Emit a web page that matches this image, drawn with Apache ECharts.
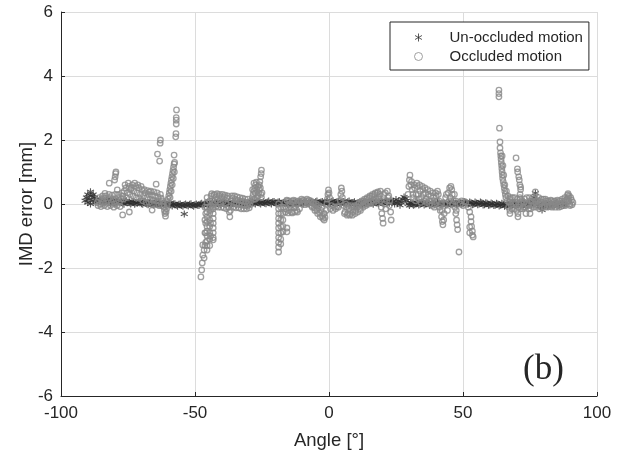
<!DOCTYPE html>
<html>
<head>
<meta charset="utf-8">
<script src="https://cdn.jsdelivr.net/npm/echarts@6/dist/echarts.min.js"></script>
<style>
  html, body { margin: 0; padding: 0; background: #ffffff; }
  #chart { width: 630px; height: 458px; }
</style>
</head>
<body>
<div id="chart"></div>
<script>
// Axis ticks
const angleTicks = [-100, -50, 0, 50, 100];
const errorTicks = [-6, -4, -2, 0, 2, 4, 6];

// Series names
const seriesNames = ['Un-occluded motion', 'Occluded motion'];

// Un-occluded motion: [angle in degrees, IMD error in mm], whole-degree samples
const unoccludedPoints = [
  [-91,0.1],[-90.5,0.2],[-90,0.05],[-90,0.3],[-89.5,0.15],[-89,0.38],[-89,0.0],[-88.5,0.25],[-88,0.1],[-88,0.3],
  [-87.5,0.2],[-87,0.05],[-86.5,0.15],[-86,0.08],[-85,0.1],[-84,0.06],[-83,0.12],[-82,0.05],[-81,0.09],[-80,0.04],
  [-79,0.1],[-78,0.06],[-77,0.02],[-76,0.08],[-75,0.05],[-74,0.0],[-73,0.06],[-72,0.03],[-71,0.07],[-70,0.01],
  [-69,0.05],[-68,0.0],[-67,0.04],[-66,-0.02],[-65,0.03],[-64,0.0],[-63,-0.03],[-62,0.02],[-61,-0.02],[-60,0.01],
  [-59,-0.03],[-58,0.0],[-57,-0.04],[-56,-0.01],[-55,-0.05],[-54,-0.02],[-54,-0.31],[-53,-0.04],[-52,-0.01],[-51,-0.05],
  [-50,-0.02],[-49,-0.04],[-48,0.0],[-47,-0.03],[-46,0.01],[-45,-0.02],[-44,0.02],[-43,-0.01],[-42,0.03],[-41,0.0],
  [-40,0.04],[-39,0.01],[-38,0.03],[-37,0.0],[-36,0.02],[-35,-0.01],[-34,0.02],[-33,0.0],[-32,0.03],[-31,0.0],
  [-30,0.02],[-29,0.05],[-28,0.02],[-27,0.06],[-26,0.03],[-25,0.05],[-24,0.02],[-23,0.06],[-22,0.03],[-21,0.07],
  [-20,0.03],[-19,0.06],[-18,0.02],[-17,0.05],[-16,0.01],[-15,0.04],[-14,0.0],[-13,0.03],[-12,0.0],[-11,0.04],
  [-10,0.01],[-9,0.05],[-8,0.02],[-7,0.06],[-6,0.03],[-5,0.07],[-4,0.02],[-3,0.06],[-2,0.03],[-1,0.07],
  [0,0.04],[1,0.08],[2,0.03],[3,0.07],[4,0.02],[5,0.06],[6,0.03],[7,0.07],[8,0.02],[9,0.05],
  [10,0.01],[11,0.04],[12,0.0],[13,0.05],[14,0.02],[15,0.06],[16,0.02],[17,0.05],[18,0.03],[19,0.07],
  [20,0.04],[21,0.08],[22,0.05],[23,0.12],[24,0.08],[24.5,0.0],[25,0.14],[25.5,0.02],[26,0.1],[26.5,-0.04],
  [27,0.05],[27.5,0.15],[28,0.22],[28.5,0.18],[29,0.1],[29.5,0.0],[30,-0.05],[31,0.02],[32,-0.02],[33,0.03],
  [34,-0.01],[35,0.04],[36,0.0],[37,0.03],[38,-0.02],[39,0.02],[40,-0.01],[41,0.03],[42,0.0],[43,0.02],
  [44,-0.02],[45,0.03],[46,0.0],[47,0.02],[48,-0.01],[49,0.04],[50,0.01],[51,0.05],[52,0.0],[53,0.04],
  [54,-0.01],[55,0.03],[56,0.0],[57,0.04],[58,-0.02],[59,0.02],[60,-0.03],[61,0.01],[62,-0.04],[63,0.0],
  [64,-0.04],[65,0.0],[66,-0.05],[67,-0.01],[68,-0.05],[69,0.0],[70,-0.04],[71,0.01],[72,-0.03],[73,0.02],
  [74,-0.05],[75,0.0],[76,0.08],[77,0.34],[77.5,0.15],[78,-0.02],[79,-0.08],[79.5,-0.19],[80,-0.05],[81,0.02],
  [82,-0.06],[83,0.0],[84,-0.04],[85,0.03],[86,-0.03],[87,0.02],[88,-0.02]
];

// Un-occluded motion, half-degree samples
const unoccludedHalfPoints = [
  [-85.5,0.14],[-84.5,0.02],[-83.5,0.08],[-82.5,0.15],[-81.5,0.01],[-80.5,0.12],[-79.5,0.03],[-78.5,0.11],[-77.5,0.07],[-76.5,-0.01],
  [-75.5,0.1],[-74.5,0.04],[-73.5,0.09],[-72.5,-0.01],[-71.5,0.03],[-70.5,0.08],[-69.5,-0.01],[-68.5,0.07],[-67.5,-0.02],[-66.5,0.06],
  [-65.5,-0.03],[-64.5,0.05],[-63.5,0.02],[-62.5,-0.05],[-61.5,0.04],[-60.5,-0.05],[-59.5,0.03],[-58.5,-0.06],[-57.5,0.01],[-56.5,-0.07],
  [-55.5,0.0],[-54.5,-0.07],[-53.5,0.0],[-52.5,-0.06],[-51.5,0.01],[-50.5,-0.07],[-49.5,0.0],[-48.5,-0.05],[-47.5,0.02],[-46.5,-0.04],
  [-45.5,0.04],[-44.5,-0.03],[-43.5,0.05],[-42.5,-0.02],[-41.5,0.06],[-40.5,-0.02],[-39.5,0.06],[-38.5,-0.01],[-37.5,0.05],[-36.5,-0.02],
  [-35.5,0.04],[-34.5,-0.03],[-33.5,0.05],[-32.5,-0.01],[-31.5,0.05],[-30.5,-0.02],[-29.5,0.01],[-28.5,0.07],[-27.5,0.0],[-26.5,0.08],
  [-25.5,0.0],[-24.5,0.08],[-23.5,0.01],[-22.5,0.09],[-21.5,0.0],[-20.5,0.08],[-19.5,0.0],[-18.5,0.07],[-17.5,-0.01],[-16.5,0.06],
  [-15.5,-0.02],[-14.5,0.06],[-13.5,-0.02],[-12.5,0.05],[-11.5,-0.01],[-10.5,0.06],[-9.5,0.0],[-8.5,0.07],[-7.5,0.01],[-6.5,0.08],
  [-5.5,0.0],[-4.5,0.09],[-3.5,0.01],[-2.5,0.08],[-1.5,0.02],[-0.5,0.09],[0.5,0.01],[1.5,0.1],[2.5,0.0],[3.5,0.09],
  [4.5,0.0],[5.5,0.08],[6.5,0.0],[7.5,0.09],[8.5,-0.01],[9.5,0.07],[10.5,-0.02],[11.5,0.06],[12.5,-0.02],[13.5,0.07],
  [14.5,0.0],[15.5,0.08],[16.5,-0.01],[17.5,0.07],[18.5,0.0],[19.5,0.09],[20.5,0.01],[21.5,0.1],[22.5,0.02],[23.5,0.05],
  [30.5,0.04],[31.5,-0.04],[32.5,0.05],[33.5,-0.03],[34.5,0.05],[35.5,-0.03],[36.5,0.05],[37.5,-0.04],[38.5,0.04],[39.5,-0.03],
  [40.5,0.05],[41.5,-0.02],[42.5,0.04],[43.5,-0.03],[44.5,0.05],[45.5,-0.02],[46.5,0.05],[47.5,-0.03],[48.5,0.06],[49.5,-0.01],
  [50.5,0.07],[51.5,-0.01],[52.5,0.06],[53.5,-0.02],[54.5,0.06],[55.5,-0.02],[56.5,0.06],[57.5,-0.03],[58.5,0.04],[59.5,-0.04],
  [60.5,0.03],[61.5,-0.05],[62.5,0.02],[63.5,-0.06],[64.5,0.02],[65.5,-0.07],[66.5,0.01],[67.5,-0.07],[68.5,0.02],[69.5,-0.06],
  [70.5,0.02],[71.5,-0.05],[72.5,0.03],[73.5,-0.07],[74.5,0.02],[75.5,-0.04],[76.5,0.2],[78.5,-0.06],[80.5,0.0],[81.5,-0.07],
  [82.5,0.02],[83.5,-0.06],[84.5,0.01],[85.5,-0.05],[86.5,0.01],[87.5,-0.05]
];

// Occluded motion, left section (-87 to -57 deg)
const occludedLeft = [
  [-86.5,0.05],[-86,0.12],[-85.4,0.0],[-84.8,0.15],[-84.2,0.05],[-83.6,0.18],[-83,0.02],[-82.4,0.12],[-81.8,0.2],[-81.2,0.05],
  [-80.6,0.15],[-80,0.0],[-79.4,0.1],[-78.8,0.2],[-78.2,0.05],[-77.6,0.15],[-77,0.25],[-76.4,0.4],[-75.8,0.5],[-75.2,0.35],
  [-74.6,0.55],[-74,0.45],[-73.4,0.6],[-72.8,0.4],[-72.2,0.55],[-71.6,0.35],[-71,0.5],[-70.4,0.3],[-69.8,0.45],[-69.2,0.25],
  [-68.6,0.35],[-68,0.2],[-67.4,0.3],[-66.8,0.15],[-66.2,0.28],[-65.6,0.12],[-65,0.25],[-64.4,0.1],[-63.8,0.22],[-63.2,0.08],
  [-62.6,0.18],[-62,0.1],[-61.8,0.0],[-61.6,-0.1],[-61.4,-0.2],[-61.2,-0.3],[-61,-0.38],[-60.8,-0.25],[-60.6,-0.15],[-60.4,-0.05],
  [-60.2,0.05],[-60,0.15],[-59.8,0.25],[-59.6,0.35],[-59.4,0.45],[-59.2,0.55],[-59,0.65],[-58.8,0.75],[-58.6,0.85],[-58.4,0.95],
  [-58.2,1.05],[-58,1.15],[-57.8,1.25],[-57.6,1.3],[-57.8,1.53],[-57.2,2.1],[-57.1,2.2],[-57,2.5],[-57,2.62],[-57,2.7],
  [-56.9,2.94],[-83.6,0.33],[-82,0.65],[-80,0.75],[-79.8,0.85],[-79.6,0.95],[-79.5,1.0],[-79,0.44],[-77,-0.34],[-74.5,-0.25],
  [-66,-0.19],[-67,0.38],[-64.5,0.62],[-64,1.56],[-63.2,1.34],[-63,1.9],[-62.9,2.0],
  [-86.2,-0.05],[-85.7,0.2],[-85.1,-0.08],[-84.5,0.25],[-83.9,-0.05],[-83.3,0.25],[-82.7,-0.08],[-82.1,0.3],[-81.5,-0.05],[-80.9,0.28],
  [-80.3,-0.1],[-79.7,0.3],[-79.1,-0.05],[-78.5,0.3],[-77.9,-0.08],[-77.3,0.35],[-76.7,0.15],[-76.1,0.6],[-75.5,0.2],[-74.9,0.65],
  [-74.3,0.3],[-73.7,0.5],[-73.1,0.25],[-72.5,0.65],[-71.9,0.2],[-71.3,0.6],[-70.7,0.18],[-70.1,0.55],[-69.5,0.1],[-68.9,0.45],
  [-68.3,0.05],[-67.7,0.42],[-67.1,0.05],[-66.5,0.4],[-65.9,0.0],[-65.3,0.38],[-64.7,-0.02],[-64.1,0.35],[-63.5,-0.05],[-62.9,0.3],
  [-62.3,-0.05],[-59.3,0.2],[-58.9,0.4],[-58.5,0.6],[-58.1,0.8],[-57.7,1.0]
];

// Occluded motion, section from -48 to -25 deg
const occludedMidLeft = [
  [-47.1,-1.28],[-46.6,-1.44],[-47.1,-1.6],[-46.6,-1.69],[-47.3,-1.84],[-47.5,-2.06],[-47.8,-2.28],
  [-45.5,0.2],[-45.5,0.05],[-45.5,-0.1],[-45.5,-0.25],[-45.5,-0.4],[-45.5,-0.55],[-45.5,-0.7],[-45.5,-0.85],[-45.5,-1.0],
  [-45.5,-1.15],[-45.5,-1.3],[-45.5,-1.44],[-46,-0.3],[-46,-0.6],[-46,-0.9],[-46,-1.2],
  [-46.3,-0.1],[-46.3,-0.5],[-46.3,-0.9],[-46.3,-1.3],[-44.5,0.1],[-44.5,-0.1],[-44.5,-0.3],[-44.5,-0.5],[-44.5,-0.7],
  [-44.5,-0.9],[-44.5,-1.1],[-44.5,-1.3],[-44.2,-0.2],[-44.2,-0.6],[-44.2,-1.0],
  [-43.2,0.0],[-43.2,-0.15],[-43.2,-0.3],[-43.2,-0.45],[-43.2,-0.6],[-43.2,-0.75],[-43.2,-0.9],[-43.2,-1.05],[-43.2,-1.12],
  [-44,0.25],[-43.5,0.1],[-43,0.28],[-42.5,0.05],[-42,0.22],[-41.5,0.12],[-41,0.25],[-40.5,0.0],[-40,0.2],[-39.5,0.08],
  [-39,0.22],[-38.5,0.0],[-38,0.18],[-37.5,-0.1],[-37.2,-0.25],[-37,-0.4],[-36.8,-0.2],[-36.5,0.1],[-36,0.18],[-35.5,0.02],
  [-35,0.15],[-34.5,0.0],[-34,0.12],[-33.5,-0.02],[-33,0.1],[-32.5,-0.04],[-32,0.08],[-31.5,-0.05],[-31,0.06],[-30.5,-0.06],
  [-30,0.05],[-29.5,-0.03],[-29,0.1],[-28.6,0.2],[-28.3,0.3],[-28,0.4],[-27.7,0.5],[-27.4,0.6],[-27.1,0.68],[-28,0.65],
  [-26.5,0.55],[-26,0.45],[-25.8,0.7],[-25.5,0.85],[-25.3,0.95],[-25.2,1.06],[-25,0.35],[-25.2,0.2],[-26.5,0.25],[-27.5,0.15],
  [-43.75,0.32],[-43.25,-0.1],[-42.75,0.3],[-42.25,-0.08],[-41.75,0.32],[-41.25,-0.1],[-40.75,0.3],[-40.25,-0.1],[-39.75,0.3],[-39.25,-0.12],
  [-38.75,0.28],[-38.25,-0.15],[-37.75,0.25],[-36.25,0.25],[-35.75,-0.1],[-35.25,0.25],[-34.75,-0.12],[-34.25,0.22],[-33.75,-0.12],[-33.25,0.2],
  [-32.75,-0.15],[-32.25,0.18],[-31.75,-0.15],[-31.25,0.15],[-30.75,-0.15],[-30.25,0.15],[-29.75,-0.12],
  [-28.5,0.45],[-28,0.15],[-27.5,0.35],[-27,0.45],[-26.8,0.2],[-26.2,0.35],[-26,0.6],[-25.6,0.5],[-25.4,0.3]
];

// Occluded motion, central section (-19 to 23 deg)
const occludedCenter = [
  [-18.8,0.0],[-18.8,-0.15],[-18.8,-0.3],[-18.8,-0.45],[-18.8,-0.6],[-18.8,-0.75],[-18.8,-0.9],[-18.8,-1.05],[-18.8,-1.2],[-18.8,-1.35],
  [-18.8,-1.5],[-18,-0.1],[-18,-0.3],[-18,-0.5],[-18,-0.7],[-18,-0.9],[-18,-1.1],[-18,-1.25],[-17.2,-0.1],[-17.2,-0.3],
  [-17.2,-0.5],[-17.2,-0.7],[-17.2,-0.87],[-15.7,-0.75],[-15.7,-0.87],
  [-16.5,0.05],[-16,-0.15],[-15.5,0.1],[-15,-0.2],[-14.5,0.0],[-14,-0.25],[-13.5,0.08],[-13,-0.12],[-12.5,0.1],[-12,-0.2],
  [-11.5,0.05],[-11,-0.15],[-10.5,0.1],[-10,0.0],[-9.5,0.12],[-9,-0.02],[-8.5,0.1],[-8,0.0],[-7.5,0.12],[-7,0.05],
  [-6.5,-0.05],[-6,0.02],[-5.5,-0.12],[-5,-0.05],[-4.5,-0.2],[-4,-0.12],[-3.5,-0.28],[-3,-0.2],[-2.5,-0.38],[-2,-0.3],
  [-1.8,-0.5],[-1.5,-0.42],[-1,-0.2],[-0.8,0.0],[-0.6,0.15],[-0.4,0.3],[-0.2,0.44],[0,0.35],[0.2,0.2],[1,-0.05],
  [2,-0.1],[3,-0.08],[4.2,0.1],[4.4,0.3],[4.6,0.5],[4.8,0.4],[5,0.2],[5.5,-0.05],[6,-0.25],[6.5,-0.1],
  [7,-0.3],[7.5,-0.15],[8,-0.3],[8.5,-0.1],[9,-0.25],[9.5,-0.05],[10,-0.2],[10.5,-0.1],[11,0.0],[11.5,-0.15],
  [12,0.05],[12.5,-0.05],[13,0.1],[13.5,0.0],[14,0.15],[14.5,0.05],[15,0.2],[15.5,0.08],[16,0.25],[16.5,0.12],
  [17,0.3],[17.5,0.15],[18,0.35],[18.5,0.2],[19,0.3],[19.3,0.1],[19.5,-0.1],[19.7,-0.3],[20,-0.45],[20.2,-0.6],
  [21,0.35],[21.5,0.1],[22,0.2],[22.5,-0.05],[23,-0.25],[23.2,-0.5],
  [-16.25,-0.25],[-15.75,0.12],[-15.25,-0.28],[-14.75,0.1],[-14.25,-0.1],[-13.75,-0.28],[-13.25,0.12],[-12.75,-0.25],[-12.25,0.0],[-11.75,-0.25],
  [-11.25,0.1],[-10.25,0.15],[-9.25,0.05],[-8.25,0.15],[-7.75,0.02],[-6.75,0.1],[-6.25,-0.1],[-5.75,0.05],[-5.25,-0.2],[-4.75,0.0],
  [-4.25,-0.3],[-3.75,-0.05],[-3.25,-0.4],[-2.75,-0.1],[-2.25,-0.45],[-1.7,-0.3],[0.5,-0.15],[1.5,-0.2],[2.5,-0.15],[3.5,-0.1],
  [5.75,-0.3],[6.25,0.0],[6.75,-0.35],[7.25,-0.05],[7.75,-0.35],[8.25,-0.05],[8.75,-0.35],[9.25,-0.1],[9.75,-0.3],[10.25,-0.05],
  [10.75,-0.25],[11.25,0.05],[11.75,-0.2],[12.25,0.1],[12.75,-0.1],[13.25,0.15],[13.75,-0.05],[14.25,0.2],[14.75,0.0],[15.25,0.25],
  [15.75,0.05],[16.25,0.3],[16.75,0.05],[17.25,0.35],[17.75,0.1],[18.25,0.38],[18.75,0.15],[19.2,0.4],[20.5,0.3],[20.7,0.0],
  [21.2,-0.15],[21.8,0.4],[22.3,0.25],[22.7,0.1]
];

// Occluded motion, section from 29 to 54 deg
const occludedMidRight = [
  [29.5,0.3],[29.8,0.55],[30,0.75],[30.2,0.9],[30.5,0.6],[31,0.45],[31.5,0.2],[32,0.5],[32.5,0.3],[33,0.55],
  [33.5,0.15],[34,0.4],[34.5,0.2],[35,0.45],[35.5,0.1],[36,0.35],[36.5,0.05],[37,0.3],[37.5,0.0],[38,0.25],
  [38.5,-0.05],[39,0.2],[39.5,0.0],[40,0.25],[40.5,0.4],[41,0.1],[41.5,-0.2],[42,-0.4],[42.3,-0.55],[42.5,-0.65],
  [43,-0.3],[43.5,0.2],[44,0.0],[44.5,0.35],[45,0.5],[45.5,0.55],[46,0.3],[46.5,0.1],[47,-0.1],[47.3,-0.3],
  [47.6,-0.5],[47.8,-0.65],[48,-0.8],[48.5,-1.5],[49,0.0],[49.5,0.1],[50,-0.05],[50.5,0.08],[51,0.05],[52,-0.1],
  [52.5,-0.25],[53,-0.4],[53,-0.55],[53.2,-0.7],[53.5,-0.85],[53.5,-0.97],[53.8,-1.03],[52.5,-0.72],[52.5,-0.9],
  [30.8,0.7],[31.3,0.3],[31.8,0.6],[32.3,0.1],[32.8,0.65],[33.3,0.3],[33.8,0.6],[34.3,0.05],[34.8,0.55],[35.3,0.3],
  [35.8,0.5],[36.3,0.15],[36.8,0.45],[37.3,0.1],[37.8,0.4],[38.3,0.1],[38.8,0.35],[39.3,-0.1],[39.8,0.35],[40.2,0.1],
  [40.8,0.3],[41.2,-0.1],[41.8,0.0],[42.2,-0.2],[42.8,-0.5],[43.2,0.0],[43.8,0.3],[44.2,-0.2],[44.8,0.1],[45.2,0.2],
  [45.8,0.45],[46.2,0.0],[46.8,0.3],[47.2,0.1],[47.5,-0.2]
];

// Occluded motion, right section (63 to 91 deg)
const occludedRight = [
  [63.4,3.56],[63.4,3.45],[63.4,3.35],[63.6,2.37],[63.8,1.94],[63.8,1.75],
  [64.0,1.6],[64.1,1.5],[64.2,1.4],[64.3,1.3],[64.4,1.2],[64.5,1.1],[64.6,1.0],[64.7,0.9],[64.8,0.8],[65.0,0.7],
  [65.2,0.6],[65.4,0.5],[65.6,0.4],[65.8,0.3],[66,0.2],[64.6,1.5],[64.9,1.2],[65.2,0.9],[65.6,0.6],[66.2,0.4],
  [69.8,1.44],[70.3,1.1],[70.4,1.0],[70.8,0.85],[71,0.75],[71.5,0.53],[71.5,0.45],[71.2,0.6],[71.3,0.3],[71.4,0.15],
  [66.5,0.1],[67,-0.1],[67.5,0.15],[67.5,-0.3],[67.5,-0.2],[68,-0.05],[68.5,0.2],[69,-0.15],[69.5,0.05],[70,-0.2],
  [70.5,-0.4],[70.5,-0.3],[71,0.0],[71.5,-0.15],[72,0.1],[72.5,-0.1],[73,0.15],[73.5,-0.3],[74,0.0],[74.5,-0.15],
  [75,0.1],[75,-0.3],[75.5,-0.05],[76,0.2],[76.5,0.0],[77,0.38],[77.5,-0.1],[78,0.1],[78.5,-0.15],[79,0.05],
  [79.5,-0.1],[80,0.15],[80.5,-0.05],[81,0.1],[81.5,-0.1],[82,0.05],[82.5,-0.08],[83,0.1],[83.5,-0.05],[84,0.08],
  [84.5,-0.1],[85,0.05],[85.5,-0.05],[86,0.1],[86.5,-0.08],[87,0.15],[87.5,0.0],[88,0.2],[88.5,0.05],[89,0.28],
  [89.3,0.2],[89.5,0.1],[89.8,0.0],[90,-0.05],[90.5,0.12],[91,0.05],
  [66.75,0.25],[67.25,0.05],[67.75,0.2],[68.25,-0.15],[68.75,0.05],[69.25,0.2],[69.75,0.0],[70.25,0.15],[70.75,-0.1],[71.25,0.2],
  [71.75,0.05],[72.25,-0.15],[72.75,0.05],[73.25,-0.1],[73.75,0.2],[74.25,-0.05],[74.75,0.2],[75.25,-0.15],[75.75,0.1],[76.25,-0.1],
  [76.75,0.15],[77.25,0.1],[77.75,-0.05],[78.25,0.2],[78.75,0.0],[79.25,0.15],[79.75,0.05],[80.25,-0.1],[80.75,0.15],[81.25,0.0],
  [81.75,0.1],[82.25,-0.05],[82.75,0.12],[83.25,-0.1],[83.75,0.0],[84.25,0.1],[84.75,0.0],[85.25,0.12],[85.75,-0.1],[86.25,0.0],
  [86.75,0.1],[87.25,-0.05],[87.75,0.1],[88.25,-0.05],[88.75,0.15],[89.2,0.32],[89.6,0.25],[90.2,0.2],[90.7,-0.02]
];

const unoccludedAll = [].concat(unoccludedPoints, unoccludedHalfPoints);
const occludedPoints = [].concat(occludedLeft, occludedMidLeft, occludedCenter, occludedMidRight, occludedRight);

// Six-armed asterisk marker, drawn as strokes
const asteriskPath = 'path://M5,0L5,10M0.67,2.5L9.33,7.5M0.67,7.5L9.33,2.5';

const darkColor = '#2e2e2e';
const greyColor = '#888888';
const fontFamily = 'Liberation Sans, Arial, Helvetica, sans-serif';

const chart = echarts.init(document.getElementById('chart'), null, { renderer: 'canvas' });

chart.setOption({
  animation: false,
  backgroundColor: '#ffffff',
  grid: { left: 61, right: 33, top: 12, bottom: 62, containLabel: false },
  xAxis: {
    type: 'value',
    min: angleTicks[0],
    max: angleTicks[angleTicks.length - 1],
    interval: 50,
    name: 'Angle [°]',
    nameLocation: 'middle',
    nameGap: 35,
    nameMoveOverlap: false,
    nameTextStyle: { fontFamily, fontSize: 18.5, color: '#262626' },
    axisLine: { show: true, onZero: false, lineStyle: { color: '#262626', width: 1 } },
    axisTick: { show: true, inside: true, length: 4, lineStyle: { color: '#262626' } },
    axisLabel: { fontFamily, fontSize: 17, color: '#262626', margin: 9 },
    splitLine: { show: true, lineStyle: { color: '#dcdcdc', width: 1 } }
  },
  yAxis: {
    type: 'value',
    min: errorTicks[0],
    max: errorTicks[errorTicks.length - 1],
    interval: 2,
    name: 'IMD error [mm]',
    nameLocation: 'middle',
    nameGap: 25,
    nameMoveOverlap: false,
    nameTextStyle: { fontFamily, fontSize: 18.5, color: '#262626' },
    axisLine: { show: true, onZero: false, lineStyle: { color: '#262626', width: 1 } },
    axisTick: { show: true, inside: true, length: 4, lineStyle: { color: '#262626' } },
    axisLabel: { fontFamily, fontSize: 17, color: '#262626', margin: 8 },
    splitLine: { show: true, lineStyle: { color: '#dcdcdc', width: 1 } }
  },
  legend: {
    orient: 'vertical',
    left: 390,
    top: 22,
    padding: [8, 6, 6, 24],
    itemGap: 4,
    itemWidth: 8,
    itemHeight: 8,
    backgroundColor: '#ffffff',
    borderColor: '#262626',
    borderWidth: 1,
    borderRadius: 0,
    textStyle: { fontFamily, fontSize: 15, color: '#262626', padding: [0, 0, 0, 22] },
    data: [
      { name: seriesNames[0], icon: asteriskPath,
        itemStyle: { color: darkColor, borderColor: darkColor, borderWidth: 1 } },
      { name: seriesNames[1], icon: 'circle',
        itemStyle: { color: 'rgba(0,0,0,0)', borderColor: greyColor, borderWidth: 1 } }
    ]
  },
  graphic: [{
    type: 'text',
    left: 523,
    top: 352,
    style: { text: '(b)', font: '35px "Liberation Serif", "Times New Roman", serif', fill: '#262626' }
  }],
  series: [
    {
      name: seriesNames[0],
      type: 'scatter',
      data: unoccludedAll,
      symbol: asteriskPath,
      symbolSize: 7,
      itemStyle: { color: darkColor, borderColor: darkColor, borderWidth: 1.1 },
      emphasis: { disabled: true },
      z: 2
    },
    {
      name: seriesNames[1],
      type: 'scatter',
      data: occludedPoints,
      symbol: 'circle',
      symbolSize: 5.5,
      itemStyle: { color: 'rgba(0,0,0,0)', borderColor: greyColor, borderWidth: 1.3 },
      emphasis: { disabled: true },
      z: 3
    }
  ]
});
</script>
</body>
</html>
